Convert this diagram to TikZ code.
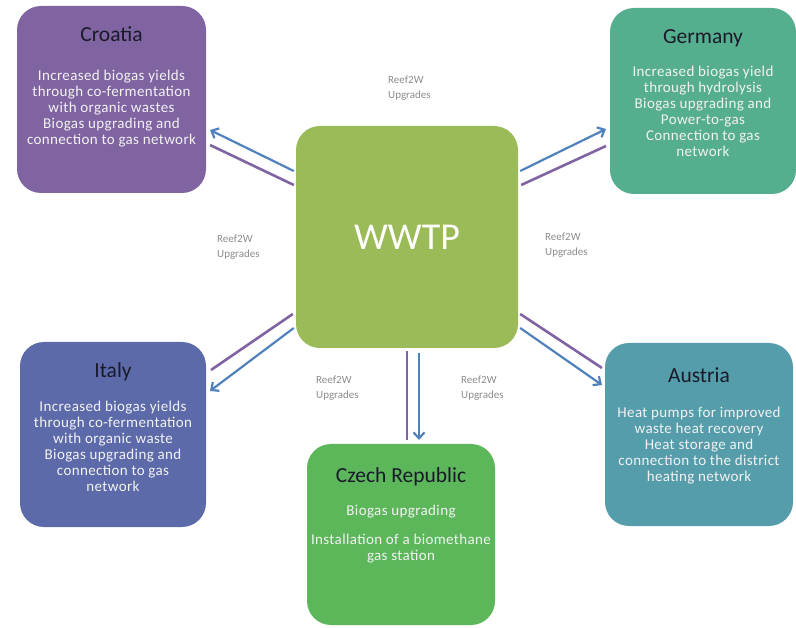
\documentclass[tikz,border=0pt]{standalone}
\usepackage{fontspec}
\setmainfont{Carlito}
\newfontfamily\bodyfont[LetterSpace=2.5]{Carlito}
\usetikzlibrary{arrows.meta,calc}
\definecolor{cro}{HTML}{8064A2}
\definecolor{ger}{HTML}{55AF8E}
\definecolor{wwtp}{HTML}{9BBB59}
\definecolor{ita}{HTML}{5D6AAA}
\definecolor{aut}{HTML}{559DAA}
\definecolor{cze}{HTML}{5CB65A}
\definecolor{bluearr}{HTML}{4F81BD}
\definecolor{purparr}{HTML}{8064A2}
\definecolor{titlecol}{HTML}{1A1A2A}
\definecolor{bodycol}{HTML}{F2F2F2}
\definecolor{lblcol}{HTML}{8C8C8C}
\begin{document}
\begin{tikzpicture}[x=1pt,y=-1pt,
  box/.style={draw=none,rounded corners=24pt,inner sep=0pt},
  ttl/.style={text=titlecol,font=\fontsize{21.5}{24}\selectfont,inner sep=0pt},
  body/.style={text=bodycol,font=\bodyfont\fontsize{15}{16}\selectfont,align=center,inner sep=0pt},
  lbl/.style={text=lblcol,font=\fontsize{11}{15}\selectfont,align=left,inner sep=0pt,anchor=west},
  barr/.style={draw=bluearr,line width=2.2pt,-{Straight Barb[length=6pt,width=11pt]}},
  parr/.style={draw=purparr,line width=2.6pt}
]
\useasboundingbox (0,0) rectangle (796,628);
% boxes
\node[box,fill=cro,minimum width=189pt,minimum height=187pt] (croatia) at (111.5,99.5) {};
\node[box,fill=ger,minimum width=186pt,minimum height=186pt] (germany) at (703,101) {};
\node[box,fill=wwtp,minimum width=222pt,minimum height=222pt] (wwtpbox) at (407,237) {};
\node[box,fill=ita,minimum width=186pt,minimum height=185pt] (italy) at (113,434.5) {};
\node[box,fill=aut,minimum width=188pt,minimum height=183pt] (austria) at (699,434.5) {};
\node[box,fill=cze,minimum width=188pt,minimum height=181pt] (czech) at (401,534.5) {};
% titles and bodies
\node[ttl] (crot) at (111.5,34) {Croatia};
\node[body] (crob) at (111.5,109) {Increased biogas yields\\through co-fermentation\\with organic wastes\\Biogas upgrading and\\connection to gas network};
\node[ttl] (gert) at (703,38) {Germany};
\node[body] (gerb) at (703,111.5) {Increased biogas yield\\through hydrolysis\\Biogas upgrading and\\Power-to-gas\\Connection to gas\\network};
\node[text=white,font=\fontsize{38}{40}\selectfont,inner sep=0pt] (wwtpt) at (407,237) {WWTP};
\node[ttl] (itat) at (113,372) {Italy};
\node[body] (itab) at (113,446.5) {Increased biogas yields\\through co-fermentation\\with organic waste\\Biogas upgrading and\\connection to gas\\network};
\node[ttl] (autt) at (699,375) {Austria};
\node[body] (autb) at (699,446) {Heat pumps for improved\\waste heat recovery\\Heat storage and\\connection to the district\\heating network};
\node[ttl] (czet) at (401,477) {Czech Republic};
\node[body] (czeb1) at (401,512) {Biogas upgrading};
\node[body] (czeb2) at (401,548.5) {Installation of a biomethane\\gas station};
% labels
\node[lbl] (l1) at (388,88) {Reef2W\\Upgrades};
\node[lbl] (l2) at (217,247) {Reef2W\\Upgrades};
\node[lbl] (l3) at (545,245) {Reef2W\\Upgrades};
\node[lbl] (l4) at (316,388) {Reef2W\\Upgrades};
\node[lbl] (l5) at (461,388) {Reef2W\\Upgrades};
% connector end points
\coordinate (cb1) at ($(wwtpbox.west)+(-2,-66)$);
\coordinate (cb2) at (210,130);
\coordinate (cp1) at ($(wwtpbox.west)+(-2,-52)$);
\coordinate (cp2) at (210,145);
\coordinate (gb1) at ($(wwtpbox.east)+(2,-66)$);
\coordinate (gb2) at (606,129);
\coordinate (gp1) at ($(wwtpbox.east)+(3,-52)$);
\coordinate (gp2) at (606,146);
\coordinate (ip1) at ($(wwtpbox.west)+(-3,77)$);
\coordinate (ip2) at (211,370);
\coordinate (ib1) at ($(wwtpbox.west)+(-2,91)$);
\coordinate (ib2) at (210,391);
\coordinate (ap1) at ($(wwtpbox.east)+(2,77)$);
\coordinate (ap2) at (602,368);
\coordinate (ab1) at ($(wwtpbox.east)+(2,91)$);
\coordinate (ab2) at (602,385);
\coordinate (zp1) at (407,351);
\coordinate (zp2) at (407,440);
\coordinate (zb1) at (419,353);
\coordinate (zb2) at (419,440);
% connectors
\draw[barr] (cb1) -- (cb2);
\draw[parr] (cp1) -- (cp2);
\draw[barr] (gb1) -- (gb2);
\draw[parr] (gp1) -- (gp2);
\draw[parr] (ip1) -- (ip2);
\draw[barr] (ib1) -- (ib2);
\draw[parr] (ap1) -- (ap2);
\draw[barr] (ab1) -- (ab2);
\draw[parr] (zp1) -- (zp2);
\draw[barr] (zb1) -- (zb2);
\end{tikzpicture}
\end{document}
